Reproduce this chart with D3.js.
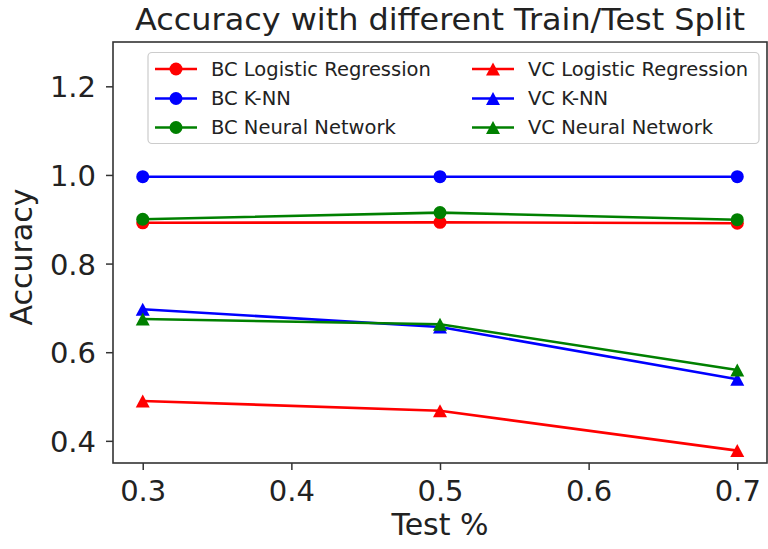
<!DOCTYPE html>
<html>
<head>
<meta charset="utf-8">
<script src="https://cdn.jsdelivr.net/npm/d3@7"></script>
<style>
  html, body { margin: 0; padding: 0; background: #fff; }
  svg { display: block; }
  text { font-family: "DejaVu Sans", sans-serif; fill: #222; }
</style>
</head>
<body>
<svg id="chart" width="768" height="549"></svg>
<script>
// Test split fractions on the x axis
const testSplits = [0.3, 0.5, 0.7];

// Accuracy per model, breast cancer (BC) and vertebral column (VC) datasets
const bcLogistic = [0.892, 0.893, 0.891];
const bcKnn      = [0.996, 0.996, 0.996];
const bcNeural   = [0.900, 0.915, 0.899];
const vcLogistic = [0.490, 0.468, 0.378];
const vcKnn      = [0.697, 0.657, 0.539];
const vcNeural   = [0.675, 0.663, 0.560];

const seriesNames = [
  "BC Logistic Regression", "BC K-NN", "BC Neural Network",
  "VC Logistic Regression", "VC K-NN", "VC Neural Network"
];
const seriesValues = [bcLogistic, bcKnn, bcNeural, vcLogistic, vcKnn, vcNeural];
const seriesColors = ["#ff0000", "#0000ff", "#008000", "#ff0000", "#0000ff", "#008000"];
const seriesMarkers = ["circle", "circle", "circle", "triangle", "triangle", "triangle"];

const xTicks = [0.3, 0.4, 0.5, 0.6, 0.7];
const yTicks = [0.4, 0.6, 0.8, 1.0, 1.2];

const titleText = "Accuracy with different Train/Test Split";
const xLabel = "Test %";
const yLabel = "Accuracy";

const svg = d3.select("#chart");
const plot = { left: 113, right: 767, top: 42, bottom: 463 };

const x = d3.scaleLinear().domain([0.28, 0.72]).range([plot.left, plot.right]);
const y = d3.scaleLinear().domain([0.35, 1.3]).range([plot.bottom, plot.top]);

// Axes
const xAxis = svg.append("g")
  .attr("transform", `translate(0,${plot.bottom})`)
  .call(d3.axisBottom(x).tickValues(xTicks).tickFormat(d3.format(".1f")).tickSize(7).tickPadding(6));
const yAxis = svg.append("g")
  .attr("transform", `translate(${plot.left},0)`)
  .call(d3.axisLeft(y).tickValues(yTicks).tickFormat(d3.format(".1f")).tickSize(7).tickPadding(10));

[xAxis, yAxis].forEach(g => {
  g.select(".domain").remove();
  g.selectAll(".tick line").attr("stroke", "#333").attr("stroke-width", 1.5);
  g.selectAll(".tick text")
    .style("font-family", "'DejaVu Sans', sans-serif")
    .style("font-size", "29px")
    .attr("fill", "#222");
});
xAxis.selectAll(".tick text").attr("dy", null).attr("y", 38);
yAxis.selectAll(".tick text").attr("dy", "0.36em");

// Frame
svg.append("rect")
  .attr("x", plot.left).attr("y", plot.top)
  .attr("width", plot.right - plot.left).attr("height", plot.bottom - plot.top)
  .attr("fill", "none").attr("stroke", "#333").attr("stroke-width", 1.6);

// Series lines and markers
const line = d3.line().x((d, i) => x(testSplits[i])).y(d => y(d));

function drawMarker(g, kind, cx, cy, color) {
  if (kind === "circle") {
    g.append("circle").attr("cx", cx).attr("cy", cy).attr("r", 6.5).attr("fill", color);
  } else {
    // up triangle centred on its bounding box
    const h = 13, w = 14;
    g.append("path")
      .attr("d", `M${cx},${cy - h / 2}L${cx + w / 2},${cy + h / 2}L${cx - w / 2},${cy + h / 2}Z`)
      .attr("fill", color);
  }
}

const series = svg.append("g");
seriesValues.forEach((vals, k) => {
  const g = series.append("g");
  g.append("path").datum(vals)
    .attr("d", line).attr("fill", "none")
    .attr("stroke", seriesColors[k]).attr("stroke-width", 2.6);
  vals.forEach((v, i) => drawMarker(g, seriesMarkers[k], x(testSplits[i]), y(v), seriesColors[k]));
});

// Legend
const legend = svg.append("g");
legend.append("rect")
  .attr("x", 148).attr("y", 52.5).attr("width", 611).attr("height", 91)
  .attr("rx", 4).attr("fill", "#fff").attr("fill-opacity", 0.8)
  .attr("stroke", "#ccc").attr("stroke-width", 1.2);
const colX = [155, 472];
const rowY = [69, 98.5, 127.5];
seriesNames.forEach((name, k) => {
  const col = Math.floor(k / 3), row = k % 3;
  const lx = colX[col], ly = rowY[row];
  legend.append("line")
    .attr("x1", lx).attr("x2", lx + 42).attr("y1", ly).attr("y2", ly)
    .attr("stroke", seriesColors[k]).attr("stroke-width", 2.6);
  drawMarker(legend, seriesMarkers[k], lx + 21, ly, seriesColors[k]);
  legend.append("text")
    .attr("x", lx + 56).attr("y", ly).attr("dy", "0.35em")
    .style("font-size", "19.5px")
    .text(name);
});

// Title and axis labels
svg.append("text")
  .attr("x", (plot.left + plot.right) / 2).attr("y", 30)
  .attr("text-anchor", "middle").style("font-size", "30px")
  .attr("textLength", 610).attr("lengthAdjust", "spacingAndGlyphs")
  .text(titleText);
svg.append("text")
  .attr("x", (plot.left + plot.right) / 2).attr("y", 535)
  .attr("text-anchor", "middle").style("font-size", "30px")
  .text(xLabel);
svg.append("text")
  .attr("transform", "translate(32,257) rotate(-90)")
  .attr("text-anchor", "middle").style("font-size", "30px")
  .text(yLabel);
</script>
</body>
</html>
